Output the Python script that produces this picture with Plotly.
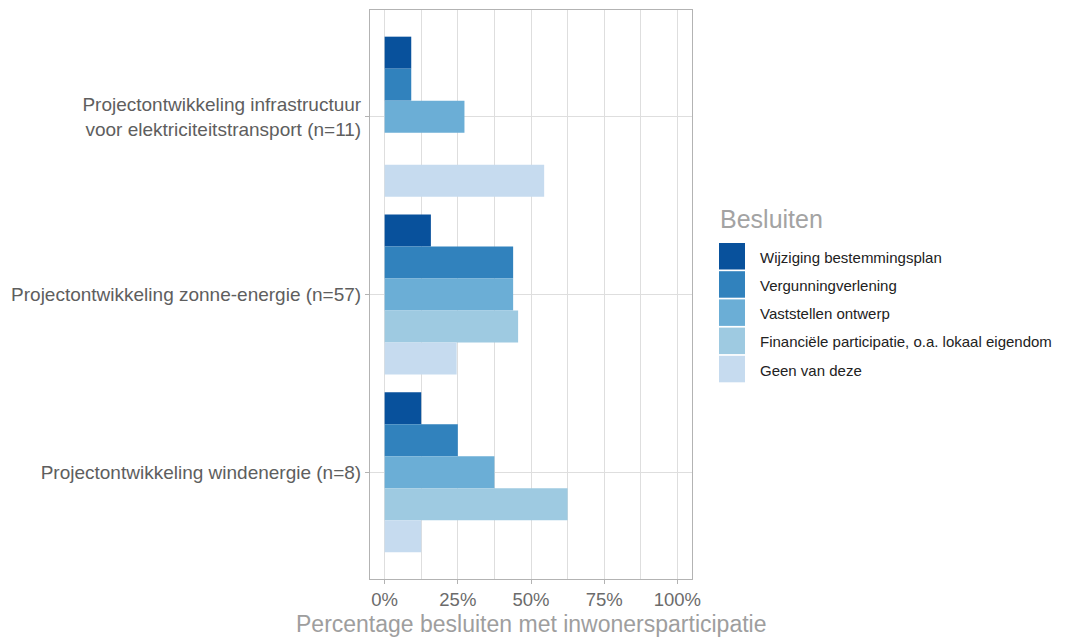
import plotly.graph_objects as go

categories = [
    "Projectontwikkeling infrastructuur<br>voor elektriciteitstransport (n=11)",
    "Projectontwikkeling zonne-energie (n=57)",
    "Projectontwikkeling windenergie (n=8)",
]
series_names = [
    "Wijziging bestemmingsplan",
    "Vergunningverlening",
    "Vaststellen ontwerp",
    "Financiële participatie, o.a. lokaal eigendom",
    "Geen van deze",
]
wijziging = [0.0909, 0.158, 0.125]
vergunning = [0.0909, 0.439, 0.25]
vaststellen = [0.2727, 0.439, 0.375]
financieel = [None, 0.456, 0.625]
geen = [0.545, 0.246, 0.125]
series_values = [wijziging, vergunning, vaststellen, financieel, geen]
colors = ["#08519C", "#3182BD", "#6BAED6", "#9ECAE1", "#C6DBEF"]
x_ticks = [0, 0.25, 0.5, 0.75, 1.0]
x_ticklabels = ["0%", "25%", "50%", "75%", "100%"]
legend_title = "Besluiten"
x_title = "Percentage besluiten met inwonersparticipatie"

FONT = "Liberation Sans, Arial, sans-serif"
W, H = 1066, 637
L, R, T, B = 370, 692, 10, 579

fig = go.Figure()
for name, vals, col in zip(series_names, series_values, colors):
    fig.add_trace(go.Bar(
        y=categories, x=vals, name=name, orientation="h",
        marker=dict(color=col, line=dict(width=0)), showlegend=False,
    ))

fig.update_layout(
    width=W, height=H,
    margin=dict(l=L, r=W - R, t=T, b=H - B, pad=0, autoexpand=False),
    barmode="group", bargap=0.1, bargroupgap=0,
    plot_bgcolor="white", paper_bgcolor="white",
    font=dict(family=FONT),
)
fig.update_xaxes(
    automargin=False,
    range=[-0.05, 1.05], tickvals=x_ticks, ticktext=x_ticklabels,
    showgrid=True, gridcolor="#dedede", gridwidth=1,
    minor=dict(dtick=0.125, tick0=0, showgrid=True, gridcolor="#dedede", gridwidth=1, ticks=""),
    ticks="outside", ticklen=4, tickcolor="#b3b3b3",
    ticklabelstandoff=0,
    tickfont=dict(size=18.5, color="#6b6b6b", family=FONT),
    showline=True, mirror=True, linecolor="#b3b3b3", linewidth=1,
    zeroline=False,
)
fig.update_yaxes(
    automargin=False,
    type="category", categoryorder="array", categoryarray=categories,
    range=[2.6, -0.6],
    showgrid=True, gridcolor="#dedede", gridwidth=1,
    ticks="outside", ticklen=4, tickcolor="#b3b3b3",
    tickfont=dict(size=19, color="#5e5e5e", family=FONT),
    showline=True, mirror=True, linecolor="#b3b3b3", linewidth=1,
    zeroline=False,
)

def px2x(px):
    return (px - L) / (R - L)

def py2y(py):
    return (B - py) / (B - T)

shapes = []
annotations = []
# x-axis title
annotations.append(dict(
    x=0.5, y=py2y(624), xref="paper", yref="paper",
    xanchor="center", yanchor="middle", showarrow=False,
    text=x_title, font=dict(size=23, color="#9e9e9e", family=FONT),
))
annotations.append(dict(
    x=px2x(718), y=py2y(219), xref="paper", yref="paper",
    xanchor="left", yanchor="middle", showarrow=False,
    text=legend_title, font=dict(size=25, color="#a3a3a3", family=FONT),
))
key_top = 243
pitch = 28.2
for i, (name, col) in enumerate(zip(series_names, colors)):
    y0 = key_top + i * pitch
    y1 = y0 + 26.5
    shapes.append(dict(
        type="rect", xref="paper", yref="paper",
        x0=px2x(719), x1=px2x(745), y0=py2y(y1), y1=py2y(y0),
        fillcolor=col, line=dict(width=0),
    ))
    annotations.append(dict(
        x=px2x(758), y=py2y((y0 + y1) / 2 + 1), xref="paper", yref="paper",
        xanchor="left", yanchor="middle", showarrow=False,
        text=name, font=dict(size=15, color="#222222", family=FONT),
    ))
fig.update_layout(shapes=shapes, annotations=annotations)

fig.write_html(
    "out.html",
    config={"displayModeBar": False},
    post_script="document.body.style.margin='0';document.body.style.overflow='hidden';",
)
